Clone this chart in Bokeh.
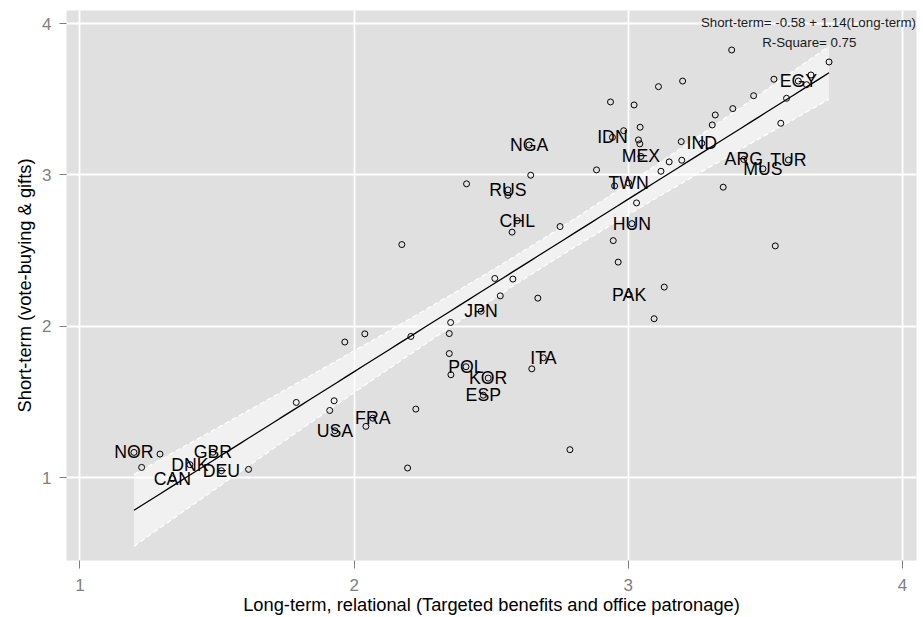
import numpy as np
from bokeh.plotting import figure
from bokeh.models import ColumnDataSource, Label, FixedTicker, Range1d
from bokeh.core.properties import value
from bokeh.embed import file_html
from bokeh.resources import INLINE

# ---- data ----
long_term = [1.197, 1.292, 1.225, 1.485, 1.401, 1.337, 1.516, 1.615, 1.930, 1.911,
             1.927, 1.789, 2.068, 2.043, 1.966, 2.039, 2.463, 2.533, 2.670, 2.352,
             2.347, 2.207, 2.347, 2.408, 2.353, 2.489, 2.471, 2.690, 2.648, 2.225,
             2.787, 2.195, 3.003, 3.131, 3.094, 2.638, 2.644, 2.410, 2.561, 2.561,
             2.595, 2.576, 2.751, 2.174, 2.513, 2.579, 3.001, 2.950, 2.884, 3.030,
             3.013, 2.945, 2.963, 2.942, 2.983, 3.043, 3.037, 3.042, 3.193, 3.046,
             3.149, 3.195, 3.119, 2.935, 3.021, 3.110, 3.198, 3.268, 3.306, 3.317,
             3.381, 3.457, 3.531, 3.620, 3.650, 3.666, 3.577, 3.732, 3.556, 3.421,
             3.491, 3.584, 3.346, 3.377, 3.536]
short_term = [1.167, 1.156, 1.068, 1.168, 1.086, 0.993, 1.046, 1.055, 1.310, 1.444,
              1.508, 1.497, 1.393, 1.339, 1.896, 1.950, 2.099, 2.201, 2.186, 2.025,
              1.952, 1.933, 1.820, 1.733, 1.680, 1.658, 1.545, 1.792, 1.719, 1.453,
              1.185, 1.064, 2.208, 2.259, 2.050, 3.198, 2.998, 2.941, 2.901, 2.865,
              2.698, 2.622, 2.659, 2.540, 2.316, 2.312, 2.947, 2.927, 3.033, 2.815,
              2.678, 2.566, 2.424, 3.248, 3.292, 3.315, 3.231, 3.205, 3.220, 3.122,
              3.086, 3.097, 3.024, 3.482, 3.462, 3.583, 3.620, 3.209, 3.330, 3.396,
              3.438, 3.523, 3.632, 3.620, 3.596, 3.660, 3.506, 3.746, 3.341, 3.102,
              3.040, 3.099, 2.919, 3.825, 2.531]
country = ["NOR", "", "", "GBR", "DNK", "CAN", "DEU", "", "USA", "",
           "", "", "FRA", "", "", "", "JPN", "", "", "",
           "", "", "", "POL", "", "KOR", "ESP", "ITA", "", "",
           "", "", "PAK", "", "", "NGA", "", "", "RUS", "",
           "CHL", "", "", "", "", "", "TWN", "", "", "",
           "HUN", "", "", "IDN", "", "", "", "", "", "MEX",
           "", "", "", "", "", "", "", "IND", "", "",
           "", "", "", "EGY", "", "", "", "", "", "ARG",
           "MUS", "TUR", "", "", ""]

fit_intercept = -0.58
fit_slope = 1.14
r_square = 0.75

x_ticks = [1, 2, 3, 4]
y_ticks = [1, 2, 3, 4]
x_title = "Long-term, relational (Targeted benefits and office patronage)"
y_title = "Short-term (vote-buying & gifts)"

# ---- derived: fitted line and its confidence band ----
x = np.array(long_term)
y = np.array(short_term)
n = len(x)
xbar = x.mean()
sxx = ((x - xbar) ** 2).sum()
resid = y - (fit_intercept + fit_slope * x)
s = np.sqrt((resid ** 2).sum() / (n - 2))
xs = np.linspace(x.min(), x.max(), 80)
fit = fit_intercept + fit_slope * xs
half = 1.99 * s * np.sqrt(1.0 / n + (xs - xbar) ** 2 / sxx)

FONT = "Liberation Sans"

p = figure(width=923, height=617,
           x_range=Range1d(0.951, 4.051), y_range=Range1d(0.453, 4.086),
           output_backend="svg", toolbar_location=None,
           min_border_left=66, min_border_right=7, min_border_top=10, min_border_bottom=56)

p.background_fill_color = "#E0E0E0"
p.border_fill_color = "white"
p.outline_line_color = None

for g, t in ((p.xgrid, x_ticks), (p.ygrid, y_ticks)):
    g.ticker = FixedTicker(ticks=t)
    g.grid_line_color = "white"
    g.grid_line_width = 1.8

p.xaxis.ticker = FixedTicker(ticks=x_ticks)
p.yaxis.ticker = FixedTicker(ticks=y_ticks)
for ax in (p.xaxis, p.yaxis):
    ax.axis_line_color = None
    ax.major_tick_line_color = "#7F7F7F"
    ax.major_tick_line_width = 1
    ax.major_tick_in = 0
    ax.minor_tick_line_color = None
    ax.major_label_text_color = "#7F7F7F"
    ax.major_label_text_font = FONT
    ax.major_label_text_font_size = "17px"
    ax.axis_label_text_font = FONT
    ax.axis_label_text_font_size = "18.3px"
    ax.axis_label_text_font_style = "normal"
    ax.axis_label_text_color = "black"
p.xaxis.major_tick_out = 8
p.xaxis.major_label_standoff = 10
p.xaxis.axis_label_standoff = 0
p.yaxis.major_tick_out = 7
p.yaxis.major_label_standoff = 8
p.yaxis.axis_label_standoff = 4
p.xaxis.axis_label = x_title
p.yaxis.axis_label = y_title

# confidence band
p.varea(x=xs, y1=fit - half, y2=fit + half, fill_color="white", fill_alpha=0.55)
p.line(xs, fit + half, line_color="white", line_width=1.2, line_dash="5 3")
p.line(xs, fit - half, line_color="white", line_width=1.2, line_dash="5 3")

src = ColumnDataSource(dict(x=long_term, y=short_term, label=country))
p.scatter("x", "y", source=src, marker="circle", size=6, fill_color=None,
          line_color="black", line_width=1)

p.line(xs, fit, line_color="black", line_width=1.3)

p.text("x", "y", text="label", source=src, text_align="center", text_baseline="middle",
       text_font=value(FONT), text_font_size="17.7px", text_color="black")

eq = "Short-term= %.2f + %.2f(Long-term)" % (fit_intercept, fit_slope)
rs = "R-Square= %.2f" % r_square
p.add_layout(Label(x=3.657, y=4.006, text=eq, text_align="center", text_baseline="middle",
                   text_font=FONT, text_font_size="13.3px", text_color="#1a1a1a"))
p.add_layout(Label(x=3.66, y=3.874, text=rs, text_align="center", text_baseline="middle",
                   text_font=FONT, text_font_size="13.3px", text_color="#1a1a1a"))

open("out.html", "w").write(file_html(p, INLINE))
